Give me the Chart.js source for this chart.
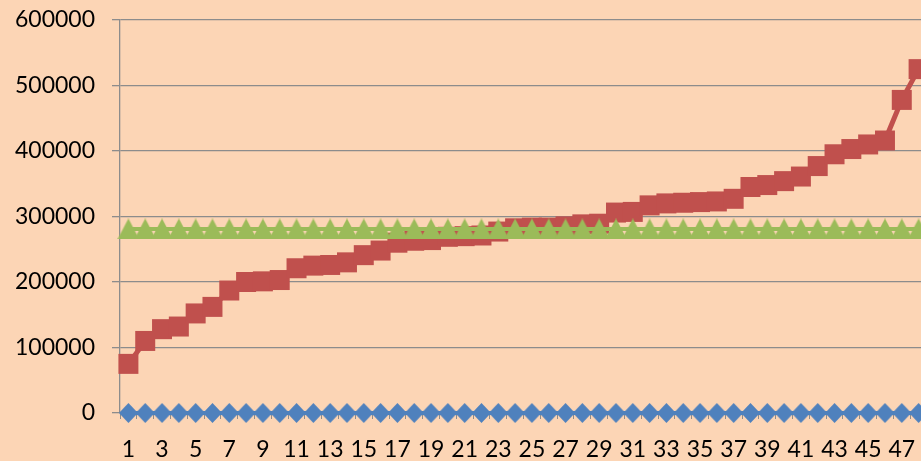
<!DOCTYPE html>
<html>
<head>
<meta charset="utf-8">
<script src="https://cdn.jsdelivr.net/npm/chart.js@4.4.1/dist/chart.umd.min.js"></script>
<style>
  html, body { margin: 0; padding: 0; background: #FCD5B5; overflow: hidden; }
  #wrap { width: 927px; height: 461px; position: relative; }
</style>
</head>
<body>
<div id="wrap"><canvas id="c"></canvas></div>
<script>
const categories = Array.from({length: 48}, (_, i) => String(i + 1));
const seriesBlue = [0,0,0,0,0,0,0,0,0,0,0,0,0,0,0,0,0,0,0,0,0,0,0,0,0,0,0,0,0,0,0,0,0,0,0,0,0,0,0,0,0,0,0,0,0,0,0,0];
const seriesRed = [75000,110000,128000,132000,152000,162000,187000,200000,201000,203000,
  221000,225000,226000,230000,241000,248000,260000,263000,264000,269000,
  270000,271000,277000,282000,283000,283000,285000,288000,289000,306000,
  307000,317000,320000,321000,322000,323000,327000,345000,348000,354000,
  361000,377000,395000,403000,410000,416000,478000,525000];
const seriesGreen = [281000,281000,281000,281000,281000,281000,281000,281000,281000,281000,
  281000,281000,281000,281000,281000,281000,281000,281000,281000,281000,
  281000,281000,281000,281000,281000,281000,281000,281000,281000,281000,
  281000,281000,281000,281000,281000,281000,281000,281000,281000,281000,
  281000,281000,281000,281000,281000,281000,281000,281000];
const yTicks = [0, 100000, 200000, 300000, 400000, 500000, 600000];

const BLUE = '#4F81BD', RED = '#C0504D', GREEN = '#9BBB59';

function makeTriangle(w, h, color) {
  const c = document.createElement('canvas');
  c.width = w; c.height = h;
  const g = c.getContext('2d');
  g.fillStyle = color;
  g.beginPath();
  g.moveTo(w / 2, 0); g.lineTo(w, h); g.lineTo(0, h); g.closePath();
  g.fill();
  return c;
}
function makeDiamond(w, h, color) {
  const c = document.createElement('canvas');
  c.width = w; c.height = h;
  const g = c.getContext('2d');
  g.fillStyle = color;
  g.beginPath();
  g.moveTo(w / 2, 0); g.lineTo(w, h / 2); g.lineTo(w / 2, h); g.lineTo(0, h / 2); g.closePath();
  g.fill();
  return c;
}
const triImg = makeTriangle(22, 21, GREEN);
const diaImg = makeDiamond(19, 20, BLUE);

Chart.defaults.font.family = 'Lato';
Chart.defaults.font.size = 23;
Chart.defaults.color = '#000000';

new Chart(document.getElementById('c'), {
  type: 'line',
  data: {
    labels: categories,
    datasets: [
      { data: seriesBlue, borderColor: BLUE, backgroundColor: BLUE, borderWidth: 4,
        pointStyle: diaImg, pointRadius: 10, pointBorderWidth: 0, order: 2, clip: false },
      { data: seriesRed, borderColor: RED, backgroundColor: RED, borderWidth: 5,
        pointStyle: 'rect', pointRadius: 14.14, pointBorderWidth: 0, order: 1, clip: false },
      { data: seriesGreen, borderColor: GREEN, backgroundColor: GREEN, borderWidth: 4,
        pointStyle: triImg, pointRadius: 11, pointBorderWidth: 0, order: 0, clip: false }
    ]
  },
  options: {
    responsive: true,
    maintainAspectRatio: false,
    animation: false,
    devicePixelRatio: 1,
    layout: { autoPadding: false, padding: { left: 15, top: 20, right: 0, bottom: 0 } },
    plugins: { legend: { display: false }, tooltip: { enabled: false } },
    elements: { line: { tension: 0 } },
    scales: {
      x: {
        type: 'category',
        offset: true,
        grid: { offset: true, drawOnChartArea: false, drawTicks: true, tickLength: 6, color: '#8C8C8C', lineWidth: 1 },
        border: { display: true, color: '#8C8C8C', width: 1 },
        ticks: {
          autoSkip: false, maxRotation: 0, minRotation: 0, padding: 17,
          callback: function(v, i) { return (i % 2 === 0) ? categories[i] : ''; }
        },
        afterFit: function(s) { s.height = 48; s.paddingLeft = 0; s.paddingRight = 0; }
      },
      y: {
        min: 0, max: 600000,
        afterBuildTicks: function(s) { s.ticks = yTicks.map(v => ({ value: v })); },
        grid: { color: '#8C8C8C', lineWidth: 1.3, tickLength: 8, drawTicks: true },
        border: { display: true, color: '#8C8C8C', width: 1.3 },
        ticks: { padding: 17, callback: function(v) { return String(v); } },
        afterFit: function(s) { s.width = 105; s.paddingTop = 0; s.paddingBottom = 0; }
      }
    }
  }
});
</script>
</body>
</html>
